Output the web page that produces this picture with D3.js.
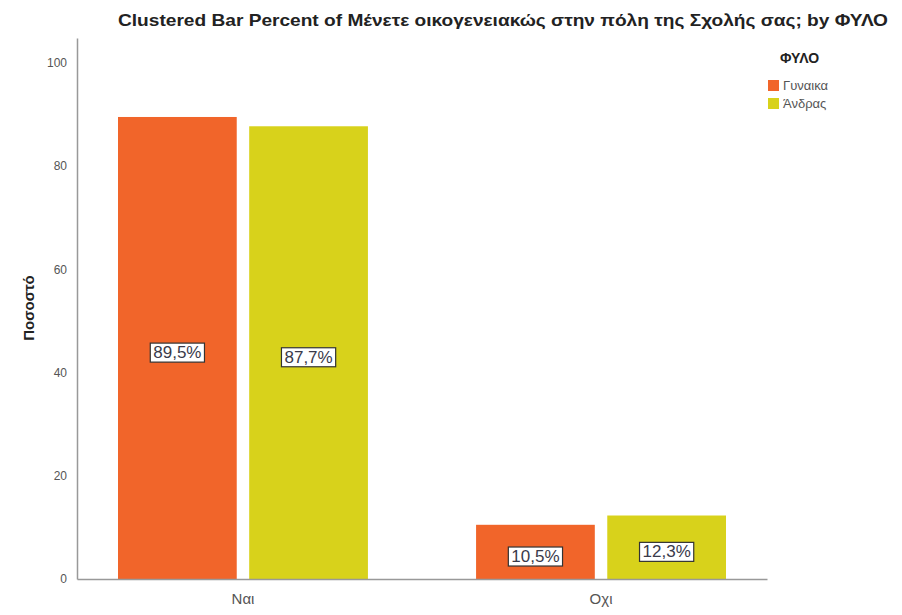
<!DOCTYPE html>
<html>
<head>
<meta charset="utf-8">
<script src="https://cdn.jsdelivr.net/npm/d3@7"></script>
<style>
  body { margin: 0; background: #fff; }
  text { font-family: "Liberation Sans", Arial, sans-serif; }
</style>
</head>
<body>
<div id="chart"></div>
<script>
"use strict";

// data
var categories = ["Ναι", "Οχι"];
var groups = ["Γυναικα", "Άνδρας"];
var womenValues = [89.5, 10.5];
var menValues = [87.7, 12.3];
var yTicks = [0, 20, 40, 60, 80, 100];
var groupColors = ["#f1652a", "#d8d21b"];

var width = 902, height = 615;
var margin = { left: 77, right: 135, top: 38, bottom: 36 };

var svg = d3.select("#chart").append("svg")
  .attr("width", width)
  .attr("height", height);

var x0 = d3.scaleBand()
  .domain(categories)
  .range([margin.left, width - margin.right])
  .paddingInner(0.302)
  .paddingOuter(0.1145);

var x1 = d3.scaleBand()
  .domain(groups)
  .range([0, x0.bandwidth()])
  .paddingInner(0.095);

var y = d3.scaleLinear()
  .domain([0, 104.8])
  .range([height - margin.bottom, margin.top]);

var color = d3.scaleOrdinal().domain(groups).range(groupColors);

// rows for drawing
var rows = [];
categories.forEach(function (c, i) {
  rows.push({ cat: c, group: groups[0], value: womenValues[i] });
  rows.push({ cat: c, group: groups[1], value: menValues[i] });
});

// title
svg.append("text")
  .attr("x", 118)
  .attr("y", 26)
  .attr("textLength", 770)
  .attr("lengthAdjust", "spacingAndGlyphs")
  .style("font-size", "17px")
  .style("font-weight", "bold")
  .style("fill", "#222")
  .text("Clustered Bar Percent of Μένετε οικογενειακώς στην πόλη της Σχολής σας; by ΦΥΛΟ");

// y axis
var yAxis = svg.append("g")
  .attr("transform", "translate(" + margin.left + ",0)")
  .call(d3.axisLeft(y).tickValues(yTicks).tickSize(0).tickPadding(10));
yAxis.select(".domain").attr("stroke", "#999").attr("stroke-width", 1.5);
yAxis.selectAll("text").style("font-size", "12px").style("fill", "#555");

svg.append("text")
  .attr("transform", "translate(34," + 308 + ") rotate(-90)")
  .attr("text-anchor", "middle")
  .style("font-size", "15px")
  .style("font-weight", "bold")
  .style("fill", "#222")
  .text("Ποσοστό");

// bars
svg.append("g").selectAll("rect")
  .data(rows)
  .join("rect")
  .attr("x", function (d) { return x0(d.cat) + x1(d.group); })
  .attr("y", function (d) { return y(d.value); })
  .attr("width", x1.bandwidth())
  .attr("height", function (d) { return y(0) - y(d.value); })
  .attr("fill", function (d) { return color(d.group); });

// x axis
var xAxis = svg.append("g")
  .attr("transform", "translate(0," + y(0) + ")")
  .call(d3.axisBottom(x0).tickSize(0).tickPadding(14));
xAxis.select(".domain").attr("stroke", "#999").attr("stroke-width", 1.5);
xAxis.selectAll("text").style("font-size", "15px").style("fill", "#555");

// value labels
var labels = svg.append("g").selectAll("g")
  .data(rows)
  .join("g")
  .attr("transform", function (d) {
    var cx = x0(d.cat) + x1(d.group) + x1.bandwidth() / 2;
    var cy = (y(0) + y(d.value)) / 2 + 4;
    return "translate(" + cx + "," + cy + ")";
  });

labels.append("text")
  .attr("text-anchor", "middle")
  .attr("dy", "0.36em")
  .style("font-size", "17px")
  .style("fill", "#3a3a4a")
  .text(function (d) { return d.value.toFixed(1).replace(".", ",") + "%"; });

labels.each(function () {
  var g = d3.select(this);
  var bb = g.select("text").node().getBBox();
  g.insert("rect", "text")
    .attr("x", bb.x - 3)
    .attr("y", bb.y)
    .attr("width", bb.width + 6)
    .attr("height", bb.height)
    .attr("fill", "#fff")
    .attr("stroke", "#333")
    .attr("stroke-width", 1.2);
});

// legend
var legend = svg.append("g").attr("transform", "translate(768,0)");
legend.append("text")
  .attr("x", 12)
  .attr("y", 63)
  .style("font-size", "14px")
  .style("font-weight", "bold")
  .style("fill", "#222")
  .text("ΦΥΛΟ");

var items = legend.selectAll("g.item")
  .data(groups)
  .join("g")
  .attr("class", "item")
  .attr("transform", function (d, i) { return "translate(0," + (80 + i * 18) + ")"; });

items.append("rect")
  .attr("width", 11)
  .attr("height", 11)
  .attr("fill", function (d) { return color(d); });

items.append("text")
  .attr("x", 15)
  .attr("y", 10)
  .style("font-size", "13px")
  .style("fill", "#555")
  .text(function (d) { return d; });
</script>
</body>
</html>
